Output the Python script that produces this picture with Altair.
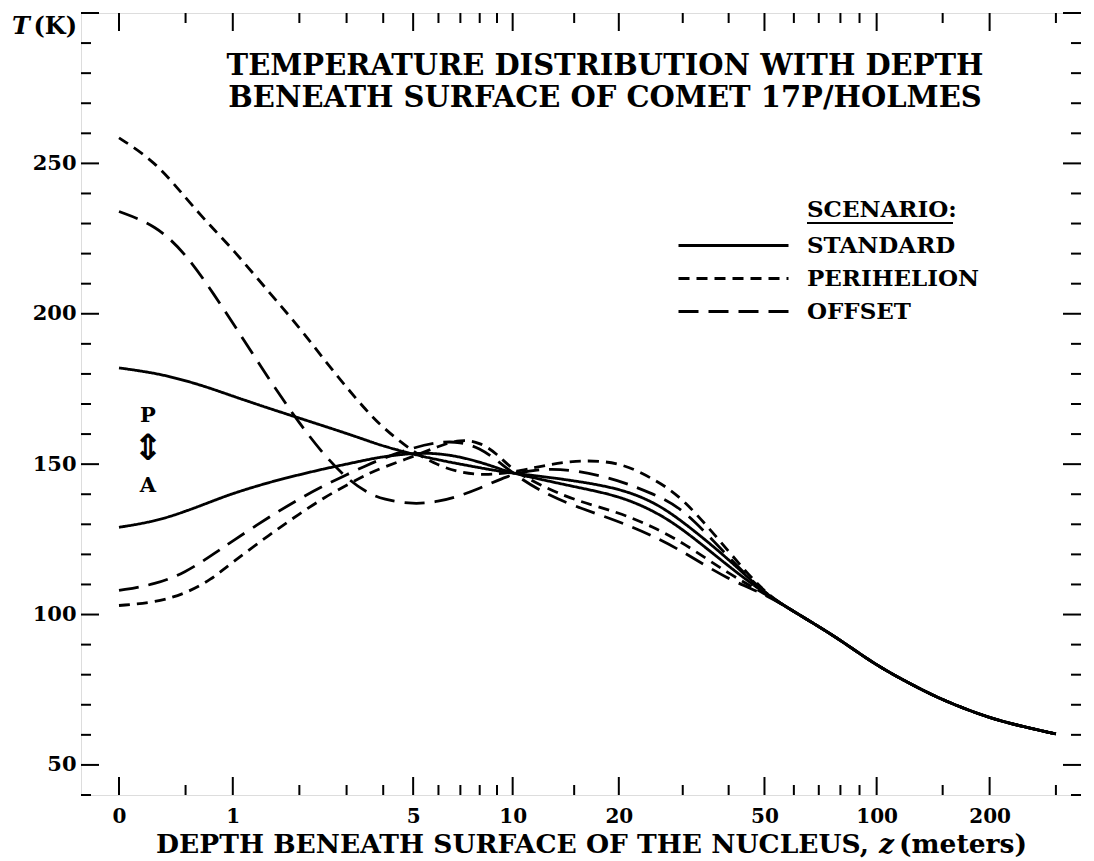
import altair as alt
import pandas as pd

SERIF = "DejaVu Serif"

# ---------------- data ----------------
scenarios = ["STANDARD", "PERIHELION", "OFFSET"]

z_shallow = [0, 0.25, 0.5, 0.75, 1, 1.5, 2, 2.5, 3, 3.5, 4, 5, 6, 7, 8, 9, 10,
             12, 15, 20, 25, 30, 40, 50]
std_p = [182, 180.3, 177.8, 175.2, 172.6, 168.5, 165.3, 162.6, 160.2, 158, 156, 153.3,
         151.4, 150, 148.8, 147.8, 147, 146, 144.5, 142, 137.5, 131, 118.5, 107]
std_a = [129, 131, 134.3, 137.5, 140.3, 144, 146.5, 148.5, 150, 151.4, 152.5, 153.7,
         153.6, 152.4, 150.7, 148.8, 147, 145, 142.5, 139.5, 134.5, 128.5, 116, 107]
peri_p = [258.5, 250.5, 238.5, 229, 221.5, 207, 195.5, 184.5, 175.5, 168, 162, 154,
          149.5, 147.2, 146.5, 146.7, 147.3, 149.3, 151.3, 151, 145, 139, 121, 107]
peri_a = [103, 104, 107, 111.5, 117.5, 126.5, 133.5, 139, 143, 146.5, 149, 152.5,
          156, 158.3, 157.3, 153.5, 148, 143, 138, 134, 129, 124, 113.5, 107]
off_p = [234, 229.5, 220, 208, 197, 178, 163.5, 152.8, 145.3, 140.7, 138.2, 136.6,
         137.5, 139.5, 142, 144.5, 146.7, 148.5, 148.2, 144.7, 140, 135.5, 119, 107]
off_a = [108, 110, 114, 119.5, 124.5, 132.5, 138.5, 143, 146.5, 149.5, 152, 155.5,
         157.4, 157.5, 155.3, 151.3, 147, 141, 136, 131, 126, 121, 111.5, 107]

z_deep = [60, 70, 80, 100, 125, 150, 200, 250, 300]
t_deep = [101, 96, 91.5, 83, 76.5, 71.5, 65.5, 62.5, 60.3]

x_major = [0, 1, 5, 10, 20, 50, 100, 200]
x_minor = [0.5, 2, 3, 4, 6, 7, 8, 9, 15, 30, 40, 60, 70, 80, 90, 150, 300]
y_major = [50, 100, 150, 200, 250, 300]
y_minor = [40, 60, 70, 80, 90, 110, 120, 130, 140, 160, 170, 180, 190, 210, 220,
           230, 240, 260, 270, 280, 290]
y_labels = [50, 100, 150, 200, 250]

title_lines = ["TEMPERATURE DISTRIBUTION WITH DEPTH",
               "BENEATH SURFACE OF COMET 17P/HOLMES"]

curves = [("STANDARD", "std_p", std_p), ("STANDARD", "std_a", std_a),
          ("PERIHELION", "peri_p", peri_p), ("PERIHELION", "peri_a", peri_a),
          ("OFFSET", "off_p", off_p), ("OFFSET", "off_a", off_a)]

rows = []
for scen, name, vals in curves:
    for z, t in zip(z_shallow + z_deep, vals + t_deep):
        rows.append({"z": z, "T": t, "curve": name, "scenario": scen})
df = pd.DataFrame(rows)

# ---------------- layout ----------------
W, H = 1000, 782
xscale = alt.Scale(type="symlog", constant=1, domain=[-0.2605, 349.7], nice=False, zero=False)
yscale = alt.Scale(domain=[40, 300], nice=False, zero=False)
dash_scale = alt.Scale(domain=scenarios, range=[[1, 0], [11, 7], [20, 10]])

lines = alt.Chart(df).mark_line(color="black", strokeWidth=2.8, interpolate="basis").encode(
    x=alt.X("z:Q", scale=xscale,
            axis=alt.Axis(values=x_major, format="d", tickSize=0, domain=False, grid=False,
                          labelFont=SERIF, labelFontSize=20, labelFontWeight="bold",
                          labelColor="black", labelPadding=11, title=None)),
    y=alt.Y("T:Q", scale=yscale,
            axis=alt.Axis(values=y_labels, format="d", tickSize=0, domain=False, grid=False,
                          labelFont=SERIF, labelFontSize=21, labelFontWeight="bold",
                          labelColor="black", labelPadding=5, title=None)),
    detail="curve:N",
    strokeDash=alt.StrokeDash("scenario:N", scale=dash_scale, sort=scenarios,
                              legend=alt.Legend(title=None, orient="none", legendX=596,
                                                legendY=216, symbolType="stroke",
                                                symbolSize=12100, symbolStrokeWidth=2.8,
                                                symbolStrokeColor="black",
                                                labelFont=SERIF, labelFontSize=23,
                                                labelFontWeight="bold", labelColor="black",
                                                labelLimit=400,
                                                labelOffset=17, clipHeight=33, rowPadding=0,
                                                padding=0)),
)


def xticks(vals, y0, y1):
    return alt.Chart(pd.DataFrame({"z": vals})).mark_rule(color="black", strokeWidth=2).encode(
        x=alt.X("z:Q", scale=xscale), y=alt.value(y0), y2=alt.value(y1))


def yticks(vals, x0, x1):
    return alt.Chart(pd.DataFrame({"T": vals})).mark_rule(color="black", strokeWidth=2).encode(
        y=alt.Y("T:Q", scale=yscale), x=alt.value(x0), x2=alt.value(x1))


ticks = [
    xticks(x_major, H, H - 18), xticks(x_minor, H, H - 10),
    xticks(x_major, 0, 18), xticks(x_minor, 0, 10),
    yticks(y_major, 0, 18), yticks(y_minor, 0, 10),
    yticks(y_major, W, W - 18), yticks(y_minor, W, W - 10),
]


def text_layer(txt, x, y, size, align="left", italic=False, font=SERIF, baseline="alphabetic"):
    kw = dict(align=align, baseline=baseline, font=font, fontSize=size,
              fontWeight="bold", color="black")
    if italic:
        kw["fontStyle"] = "italic"
    return alt.Chart(pd.DataFrame({"label": [txt]})).mark_text(**kw).encode(
        x=alt.value(x), y=alt.value(y), text="label:N")


texts = [
    text_layer(title_lines[0], 524, 62, 29, align="center"),
    text_layer(title_lines[1], 524, 94, 29, align="center"),
    text_layer("T", -69, 21, 24, italic=True),
    text_layer("(K)", -4, 21, 24, align="right"),
    text_layer("DEPTH BENEATH SURFACE OF THE NUCLEUS,", 788, 840, 26.5, align="right"),
    text_layer("z", 798, 840, 26.5, italic=True),
    text_layer("(meters)", 818, 840, 26.5),
    text_layer("P", 67, 409, 21, align="center"),
    text_layer("\u21d5", 67, 436, 36, align="center", font="DejaVu Sans", baseline="middle"),
    text_layer("A", 67, 479, 21, align="center"),
    text_layer("SCENARIO:", 726, 204, 23),
]

underline = alt.Chart(pd.DataFrame({"k": [0]})).mark_rule(color="black", strokeWidth=2).encode(
    x=alt.value(726), x2=alt.value(872), y=alt.value(210))

chart = alt.layer(lines, *ticks, *texts, underline).properties(
    width=W, height=H,
    autosize=alt.AutoSizeParams(type="none"),
    padding={"left": 73, "top": 5, "right": 0, "bottom": 63},
).configure_view(stroke="black", strokeWidth=2).configure(background="white")

chart.save("out.html", embed_options={"renderer": "svg", "actions": False})
